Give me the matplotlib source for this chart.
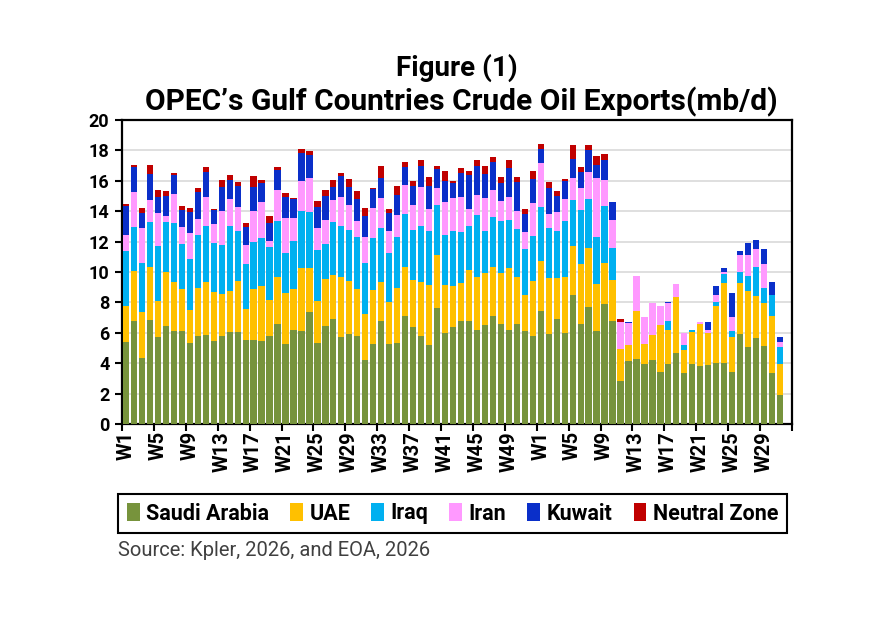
import numpy as np
import matplotlib
matplotlib.use('Agg')
import matplotlib.pyplot as plt
from matplotlib.patches import Patch

# week labels: 52 weeks of 2025, then 2026 up to W32 (W32 has no data yet)
weeks = ['W%d' % i for i in range(1, 53)] + ['W%d' % i for i in range(1, 33)]

saudi = [5.39, 6.80, 4.34, 6.86, 5.70, 6.43, 6.12, 6.12, 5.33, 5.81, 5.88, 5.48, 5.81, 6.03,
         6.05, 5.55, 5.55, 5.44, 5.77, 6.58, 5.29, 6.21, 6.14, 7.35, 5.33, 6.43, 6.91, 5.70,
         5.92, 5.81, 4.23, 5.29, 6.80, 5.29, 5.33, 7.13, 6.38, 5.81, 5.22, 7.63, 5.99, 6.38,
         6.80, 6.75, 6.21, 6.54, 7.13, 6.60, 6.21, 6.60, 6.14, 5.81,
         7.41, 5.92, 6.91, 5.99, 8.51, 6.60, 7.70, 6.14, 7.92, 6.78, 2.84, 4.16, 4.30, 3.96,
         4.22, 3.43, 3.96, 4.66, 3.35, 3.96, 3.80, 3.89, 4.00, 4.00, 3.41, 5.91, 5.06, 5.65,
         5.14, 3.35, 1.92]
uae = [2.35, 3.24, 3.01, 3.45, 2.37, 3.57, 3.22, 2.76, 2.19, 3.14, 3.46, 3.18, 2.76, 2.72,
       3.36, 2.02, 3.33, 3.61, 2.37, 3.07, 3.33, 2.67, 4.12, 2.91, 2.74, 3.11, 2.87, 3.97,
       3.47, 3.07, 3.01, 3.55, 2.54, 2.74, 3.62, 3.18, 3.12, 3.53, 3.95, 3.47, 3.18, 2.72,
       2.48, 3.36, 3.46, 3.39, 3.20, 3.33, 4.05, 3.05, 2.32, 3.58,
       3.29, 3.69, 2.70, 3.68, 3.22, 3.93, 3.88, 3.09, 2.67, 2.69, 2.08, 1.05, 3.15, 1.32,
       1.63, 3.09, 2.24, 3.71, 1.55, 2.07, 2.81, 2.09, 3.78, 5.27, 2.30, 3.36, 3.66, 2.76,
       2.81, 3.77, 2.04]
iraq = [3.62, 2.92, 3.24, 2.98, 3.66, 3.27, 3.88, 2.96, 3.34, 3.48, 3.71, 3.25, 3.23, 4.30,
        3.29, 2.98, 3.07, 3.17, 3.48, 3.68, 2.63, 3.14, 3.73, 3.69, 3.36, 2.30, 3.49, 3.33,
        3.35, 3.42, 3.36, 3.40, 3.55, 3.22, 3.35, 3.53, 3.24, 3.71, 3.51, 3.29, 3.29, 3.58,
        3.35, 2.94, 4.06, 2.75, 3.29, 3.45, 3.18, 3.18, 3.05, 3.00,
        3.58, 3.28, 3.07, 3.66, 3.03, 3.57, 3.22, 3.07, 3.77, 2.11, 0.00, 0.00, 0.00, 0.00,
        0.00, 0.00, 0.60, 0.00, 0.31, 0.17, 0.00, 0.00, 0.26, 0.63, 0.39, 0.71, 1.03, 1.91,
        1.00, 1.34, 1.12]
iran = [1.05, 2.28, 2.30, 1.42, 2.13, 0.44, 1.89, 1.12, 1.71, 1.08, 1.86, 1.23, 2.19, 1.75,
        1.55, 1.25, 2.04, 2.41, 0.40, 2.04, 2.30, 1.53, 1.97, 2.23, 1.46, 1.60, 1.44, 1.93,
        1.69, 1.03, 1.72, 1.97, 1.98, 1.43, 1.43, 1.91, 1.69, 2.54, 1.46, 1.11, 2.12, 2.19,
        2.28, 1.09, 1.31, 2.19, 1.80, 1.27, 1.49, 1.20, 1.12, 2.15,
        2.89, 0.95, 1.28, 1.47, 1.42, 1.43, 1.78, 3.88, 1.67, 1.82, 1.82, 1.44, 2.27, 1.75,
        2.10, 1.23, 1.19, 0.85, 0.77, 0.00, 0.10, 0.19, 0.42, 0.13, 0.97, 1.11, 1.36, 1.19,
        1.57, 0.00, 0.29]
kuwait = [1.95, 1.67, 0.99, 1.76, 1.05, 1.31, 1.25, 1.10, 1.36, 1.73, 1.67, 0.92, 1.58, 1.27,
          1.43, 1.16, 1.58, 1.22, 1.20, 1.36, 1.38, 1.25, 1.87, 1.50, 1.39, 1.54, 0.88, 1.36,
          1.16, 1.47, 1.39, 1.27, 1.31, 1.20, 1.36, 1.16, 1.21, 1.36, 1.50, 1.30, 1.38, 0.99,
          1.60, 2.22, 1.91, 1.58, 1.82, 1.21, 1.91, 1.91, 1.21, 1.60,
          0.94, 1.69, 1.06, 1.16, 1.25, 1.05, 1.42, 0.88, 1.32, 1.18, 0.00, 0.08, 0.00, 0.00,
          0.00, 0.00, 0.06, 0.00, 0.00, 0.00, 0.00, 0.54, 0.63, 0.24, 1.54, 0.26, 0.83, 0.57,
          0.98, 0.91, 0.33]
neutral = [0.14, 0.11, 0.31, 0.59, 0.51, 0.29, 0.15, 0.26, 0.28, 0.26, 0.31, 0.11, 0.50, 0.29,
           0.26, 0.26, 0.72, 0.18, 0.44, 0.18, 0.27, 0.07, 0.26, 0.26, 0.37, 0.44, 0.44, 0.22,
           0.53, 0.51, 0.50, 0.05, 0.77, 0.29, 0.59, 0.30, 0.37, 0.40, 0.59, 0.15, 0.71, 0.10,
           0.33, 0.26, 0.44, 0.50, 0.30, 0.37, 0.51, 0.33, 0.30, 0.48,
           0.33, 0.37, 0.29, 0.16, 0.93, 0.33, 0.36, 0.55, 0.41, 0.00, 0.16, 0.00, 0.00, 0.00,
           0.00, 0.00, 0.00, 0.00, 0.00, 0.00, 0.00, 0.00, 0.00, 0.00, 0.00, 0.00, 0.00, 0.00,
           0.00, 0.00, 0.00]

countries = ['Saudi Arabia', 'UAE', 'Iraq', 'Iran', 'Kuwait', 'Neutral Zone']
colors = ['#77933C', '#FFC000', '#00B0F0', '#FF99FF', '#0A2FC9', '#C00000']
series = [saudi, uae, iraq, iran, kuwait, neutral]

FONT = ['Roboto', 'DejaVu Sans']

fig = plt.figure(figsize=(8.87, 6.17), dpi=100)
ax = fig.add_axes([122/887, 1-424/617, 670/887, 304/617])

x = np.arange(len(saudi))
bottom = np.zeros(len(saudi))
for vals, col in zip(series, colors):
    v = np.array(vals)
    ax.bar(x, v, bottom=bottom, width=0.78, color=col, linewidth=0, zorder=3)
    bottom += v

ax.set_xlim(-0.5, len(weeks) - 0.5)
ax.set_ylim(0, 20)
ax.set_yticks(np.arange(0, 21, 2))
ax.yaxis.grid(True, color='#D9D9D9', linewidth=1.2, zorder=0)
ax.set_axisbelow(True)

# tick marks between category groups, labels on the category
ax.set_xticks(np.arange(-0.5, len(weeks), 4))
ax.set_xticklabels([])
ax.set_xticks(np.arange(0, len(weeks), 4), [weeks[i] for i in range(0, len(weeks), 4)], minor=True)
ax.tick_params(axis='x', which='major', direction='out', length=5, width=1.5)
ax.tick_params(axis='x', which='minor', length=0, pad=5)
ax.tick_params(axis='y', direction='out', length=5, width=1.5, pad=4)
for lab in ax.get_xticklabels(minor=True):
    lab.set_rotation(90)
    lab.set_fontweight('bold')
    lab.set_fontsize(14.5)
    lab.set_family(FONT)
for lab in ax.get_yticklabels():
    lab.set_fontweight('bold')
    lab.set_fontsize(13)
    lab.set_family(FONT)

for s in ax.spines.values():
    s.set_linewidth(1.6)
    s.set_color('black')

fig.text(0.515, 1-68/617, 'Figure (1)', ha='center', va='center',
         fontsize=20, fontweight='bold', family=FONT)
fig.text(0.52, 1-102/617, 'OPEC\u2019s Gulf Countries Crude Oil Exports(mb/d)', ha='center',
         va='center', fontsize=21.5, fontweight='bold', family=FONT)

handles = [Patch(facecolor=c, edgecolor='none') for c in colors]
leg = fig.legend(handles, countries, loc='center', ncol=6,
                 bbox_to_anchor=(118/887, 1-534/617, 669/887, 41/617), mode='expand',
                 frameon=True, fancybox=False, edgecolor='black', framealpha=1,
                 handlelength=0.6, handleheight=0.9, handletextpad=0.3, columnspacing=0.8,
                 borderaxespad=0,
                 prop={'family': FONT, 'weight': 'bold', 'size': 15.5})
leg.get_frame().set_linewidth(1.5)

fig.text(118/887, 1-550/617, 'Source: Kpler, 2026, and EOA, 2026', ha='left', va='center',
         fontsize=14.5, color='#404040', family=FONT)

fig.savefig('out.png', dpi=100)
